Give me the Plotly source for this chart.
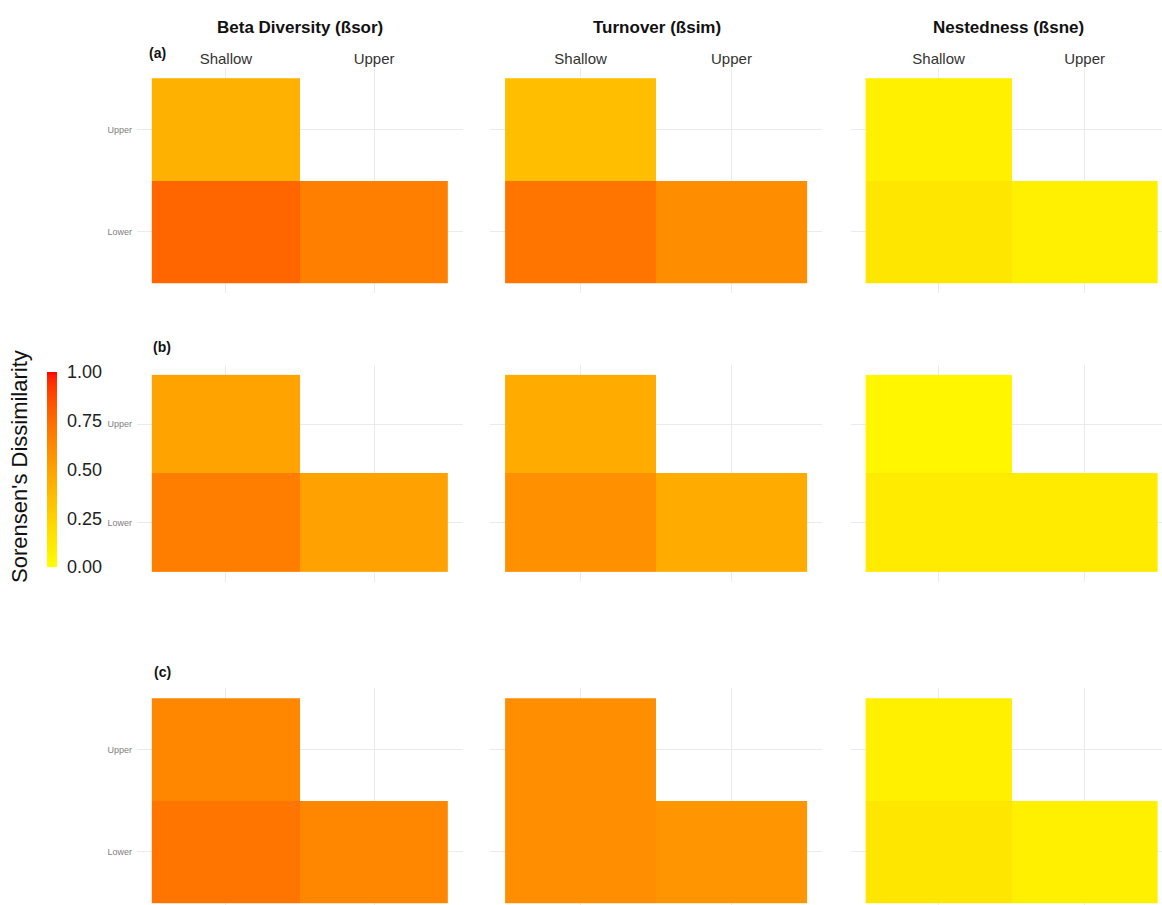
import numpy as np
import plotly.graph_objects as go

# ---------------- data ----------------
x_sites = ["Shallow", "Upper"]
y_sites = ["Lower", "Upper"]
metric_titles = ["Beta Diversity (ßsor)", "Turnover (ßsim)", "Nestedness (ßsne)"]
row_labels = ["(a)", "(b)", "(c)"]
# pair order: [Shallow-Upper, Shallow-Lower, Upper-Lower]
bsor_a = [0.42, 0.77, 0.66]
bsim_a = [0.35, 0.71, 0.60]
bsne_a = [0.08, 0.14, 0.09]
bsor_b = [0.49, 0.67, 0.50]
bsim_b = [0.45, 0.58, 0.45]
bsne_b = [0.05, 0.11, 0.11]
bsor_c = [0.63, 0.71, 0.63]
bsim_c = [0.59, 0.59, 0.56]
bsne_c = [0.08, 0.14, 0.08]
panels = [[bsor_a, bsim_a, bsne_a], [bsor_b, bsim_b, bsne_b], [bsor_c, bsim_c, bsne_c]]
cbar_ticks = [0, 0.25, 0.5, 0.75, 1.0]
cbar_ticktext = ["0.00", "0.25", "0.50", "0.75", "1.00"]

# ---------------- colour scale (yellow -> red, Lab interpolation) ----------------
def srgb_to_lab(rgb):
    c = np.array(rgb) / 255.0
    c = np.where(c <= 0.04045, c / 12.92, ((c + 0.055) / 1.055) ** 2.4)
    M = np.array([[0.4124, 0.3576, 0.1805], [0.2126, 0.7152, 0.0722], [0.0193, 0.1192, 0.9505]])
    xyz = M @ c / np.array([0.95047, 1.0, 1.08883])
    f = np.where(xyz > 0.008856, np.cbrt(xyz), 7.787 * xyz + 16 / 116)
    return np.array([116 * f[1] - 16, 500 * (f[0] - f[1]), 200 * (f[1] - f[2])])

def lab_to_srgb(lab):
    L, a, b = lab
    fy = (L + 16) / 116
    fx = fy + a / 500
    fz = fy - b / 200
    f = np.array([fx, fy, fz])
    xyz = np.where(f ** 3 > 0.008856, f ** 3, (f - 16 / 116) / 7.787) * np.array([0.95047, 1.0, 1.08883])
    Minv = np.array([[3.2406, -1.5372, -0.4986], [-0.9689, 1.8758, 0.0415], [0.0557, -0.2040, 1.0570]])
    c = np.clip(Minv @ xyz, 0, 1)
    c = np.where(c <= 0.0031308, 12.92 * c, 1.055 * c ** (1 / 2.4) - 0.055)
    c = np.clip(np.round(c * 255), 0, 255).astype(int)
    return "rgb(%d,%d,%d)" % tuple(c)

lab_lo = srgb_to_lab([255, 255, 0])
lab_hi = srgb_to_lab([255, 0, 0])
colorscale = []
for t in np.linspace(0, 1, 41):
    colorscale.append([float(t), lab_to_srgb(lab_lo + (lab_hi - lab_lo) * t)])

# ---------------- layout geometry (pixels) ----------------
W, H = 1162, 905
col_px = [(137, 463), (490, 822), (851, 1162)]
col_range = [[-0.6, 1.6], [-0.6, 1.6], [-0.6, 1.53]]
row_px = [(68, 293), (365, 582), (688, 905)]
row_range = [[-0.6, 1.6], [-0.6, 1.6], [-0.52, 1.6]]

font_main = "Liberation Sans, Arial, sans-serif"
fig = go.Figure()
layout = dict(
    width=W, height=H, margin=dict(l=0, r=0, t=0, b=0),
    paper_bgcolor="white", plot_bgcolor="white", showlegend=False,
    font=dict(family=font_main, color="#333333"),
    coloraxis=dict(
        colorscale=colorscale, cmin=0, cmax=1,
        colorbar=dict(
            x=47 / W, xanchor="left", xpad=0, ypad=0,
            y=1 - 469.5 / H, yanchor="middle",
            len=195, lenmode="pixels", thickness=10,
            outlinewidth=0, ticks="outside", ticklen=7, tickcolor="rgba(0,0,0,0)",
            tickvals=cbar_ticks, ticktext=cbar_ticktext,
            tickfont=dict(size=18, color="#222222",
                          family="Liberation Sans Narrow, Arial Narrow, Liberation Sans, sans-serif"),
        ),
    ),
)

annotations = []
k = 0
for r in range(3):
    for c in range(3):
        k += 1
        vals = panels[r][c]
        # z[row=y][col=x]; y: 0=Lower, 1=Upper ; x: 0=Shallow, 1=Upper
        z = [[vals[1], vals[2]], [vals[0], None]]
        xa = "x" if k == 1 else "x%d" % k
        ya = "y" if k == 1 else "y%d" % k
        fig.add_trace(go.Heatmap(
            x=[0, 1], y=[0, 1], z=z, coloraxis="coloraxis",
            xaxis=xa, yaxis=ya, hoverongaps=False,
        ))
        x0, x1 = col_px[c]
        y0, y1 = row_px[r]
        xkey = "xaxis" if k == 1 else "xaxis%d" % k
        ykey = "yaxis" if k == 1 else "yaxis%d" % k
        layout[xkey] = dict(
            domain=[x0 / W, x1 / W], anchor=ya, range=col_range[c],
            tickvals=[0, 1], ticktext=x_sites, side="top",
            showticklabels=(r == 0), ticks="",
            tickfont=dict(size=15, color="#333333"),
            showgrid=True, gridcolor="#EBEBEB", gridwidth=1,
            zeroline=False, showline=False, fixedrange=True,
        )
        layout[ykey] = dict(
            domain=[1 - y1 / H, 1 - y0 / H], anchor=xa, range=row_range[r],
            tickvals=[0, 1], ticktext=y_sites,
            showticklabels=(c == 0), ticks="", ticklabelstandoff=4,
            tickfont=dict(size=9, color="#808080"),
            showgrid=True, gridcolor="#EBEBEB", gridwidth=1,
            zeroline=False, showline=False, fixedrange=True,
        )

# column titles
title_x = [300, 657, 1009]
for c in range(3):
    annotations.append(dict(
        text="<b>%s</b>" % metric_titles[c], x=title_x[c] / W, y=1 - 28 / H,
        xref="paper", yref="paper", xanchor="center", yanchor="middle",
        showarrow=False, font=dict(size=17, color="#111111", family=font_main),
    ))
# row labels
row_lab_pos = [(157, 53), (162, 347), (162, 672)]
for r in range(3):
    annotations.append(dict(
        text="<b>%s</b>" % row_labels[r], x=row_lab_pos[r][0] / W, y=1 - row_lab_pos[r][1] / H,
        xref="paper", yref="paper", xanchor="center", yanchor="middle",
        showarrow=False, font=dict(size=14, color="#111111", family=font_main),
    ))
# colorbar title
annotations.append(dict(
    text="Sorensen's Dissimilarity", x=20 / W, y=1 - 467 / H,
    xref="paper", yref="paper", xanchor="center", yanchor="middle",
    textangle=-90, showarrow=False,
    font=dict(size=22, color="#111111", family=font_main),
))
layout["annotations"] = annotations
fig.update_layout(**layout)
fig.write_html("out.html")
